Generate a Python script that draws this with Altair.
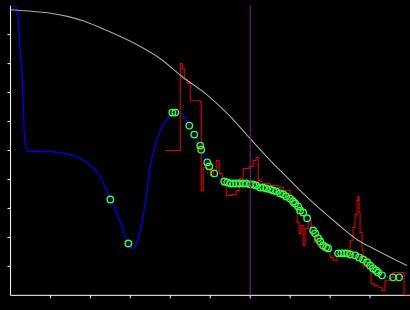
import altair as alt
import pandas as pd

# Reference (gray) curve
gray_x = [0, 0.575, 1.0, 1.425, 1.85, 2.25, 3.075, 3.75, 4.325, 4.875, 5.425, 6.0, 6.5, 7.0, 7.325, 8.175, 8.7, 9.175, 9.925]
gray_y = [9.86, 9.80, 9.74, 9.63, 9.46, 9.24, 8.72, 8.17, 7.52, 6.97, 6.28, 5.41, 4.66, 3.97, 3.52, 2.48, 1.90, 1.55, 1.03]

# Smooth fitted (blue) curve
blue_x = [0, 0.125, 0.175, 0.2, 0.25, 0.3, 0.325, 0.35, 0.4, 0.45, 0.75, 1.25, 1.55, 1.825, 2.175, 2.5,
          2.75, 2.95, 3.075, 3.2, 3.325, 3.425, 3.5, 3.575, 3.75, 3.925, 4.075, 4.25, 4.45, 4.575, 4.75,
          4.925, 5.1, 5.35, 5.625, 5.9, 6.075, 6.25, 6.5, 6.75, 7.0, 7.125, 7.25, 7.425, 7.575, 7.7,
          7.825, 7.95, 8.2, 8.425, 8.625, 8.725, 8.925, 9.075, 9.3, 9.575, 9.725, 9.925]
blue_y = [10.0, 9.97, 9.72, 9.38, 8.28, 7.41, 6.48, 5.45, 5.10, 4.97, 4.97, 4.93, 4.83, 4.66, 4.24, 3.34,
          2.52, 1.79, 1.62, 1.97, 2.76, 3.69, 4.48, 4.93, 5.69, 6.10, 6.28, 6.28, 5.93, 5.59, 5.17,
          4.59, 4.21, 3.93, 3.86, 3.86, 3.83, 3.72, 3.66, 3.52, 3.34, 3.17, 2.93, 2.66, 2.24, 1.97,
          1.72, 1.62, 1.45, 1.45, 1.38, 1.31, 1.14, 0.93, 0.69, 0.62, 0.62, 0.72]

# Noisy (red) step series
red_x = [3.875, 4.25, 4.3, 4.35, 4.425, 4.5, 4.75, 4.775, 4.825, 4.9, 5.0, 5.075, 5.15, 5.225, 5.3, 5.4,
         5.55, 5.65, 5.725, 5.825, 5.975, 6.075, 6.15, 6.2, 6.275, 6.5, 6.7, 6.825, 7.0, 7.125, 7.175,
         7.225, 7.275, 7.325, 7.375, 7.45, 7.525, 7.6, 7.7, 7.825, 8.0, 8.075, 8.175, 8.45, 8.5, 8.575,
         8.625, 8.675, 8.7, 8.725, 8.75, 8.8, 8.825, 9.0, 9.025, 9.1, 9.2, 9.3, 9.375, 9.5, 9.575, 9.85, 10.0]
red_y = [5.0, 8.0, 7.83, 7.45, 7.31, 6.72, 6.66, 3.62, 4.41, 4.38, 4.14, 4.31, 4.66, 4.21, 3.79, 3.45,
         3.48, 3.62, 4.03, 4.38, 4.45, 4.66, 4.76, 3.97, 3.86, 3.79, 3.72, 3.62, 3.38, 3.17, 2.52,
         2.14, 2.41, 1.72, 2.31, 2.59, 2.14, 1.83, 1.66, 1.55, 1.31, 1.21, 1.34, 1.45, 1.90, 2.34,
         2.79, 3.28, 3.41, 2.86, 2.17, 1.55, 1.0, 0.86, 0.41, 0.34, 0.28, 0.17, 0.52, 0.62, 0.79, 0.0, 0.0]

# Sample points (green circles)
pts_x = [2.5, 2.95, 4.05, 4.125, 4.475, 4.6, 4.75, 4.775, 4.925, 4.975, 5.1, 5.35, 5.425, 5.5, 5.575,
         5.65, 5.725, 5.825, 5.9, 6.0, 6.075, 6.15, 6.25, 6.325, 6.4, 6.5, 6.575, 6.65, 6.75, 6.825,
         6.9, 7.0, 7.075, 7.125, 7.2, 7.25, 7.325, 7.425, 7.575, 7.625, 7.7, 7.75, 7.825, 7.9, 7.95,
         8.2, 8.275, 8.35, 8.425, 8.5, 8.625, 8.725, 8.825, 8.925, 9.0, 9.075, 9.15, 9.2, 9.3, 9.575, 9.725]
pts_y = [3.31, 1.79, 6.31, 6.31, 5.86, 5.55, 5.17, 5.03, 4.59, 4.45, 4.21, 3.93, 3.90, 3.86, 3.86,
         3.86, 3.86, 3.86, 3.86, 3.83, 3.83, 3.79, 3.72, 3.72, 3.69, 3.66, 3.62, 3.59, 3.52, 3.48,
         3.41, 3.34, 3.24, 3.17, 3.07, 2.93, 2.86, 2.66, 2.24, 2.14, 1.97, 1.86, 1.72, 1.66, 1.62,
         1.45, 1.45, 1.45, 1.45, 1.41, 1.38, 1.31, 1.24, 1.14, 1.03, 0.93, 0.86, 0.79, 0.69, 0.62, 0.62]

marker_x = [6.0]
tick_vals = [1, 2, 3, 4, 5, 6, 7, 8, 9]

xs = alt.Scale(domain=[0, 10], nice=False, zero=False)
ys = alt.Scale(domain=[0, 10], nice=False, zero=False)

ax_x = alt.Axis(values=tick_vals, labels=False, title=None, grid=False, domainColor="white",
                tickColor="white", tickSize=3, domainWidth=1, tickWidth=1, translate=0,
                labelOverlap=False, tickCount=10)
ax_y = alt.Axis(values=tick_vals, labels=False, title=None, grid=False, domainColor="white",
                tickColor="white", tickSize=3, domainWidth=1, tickWidth=1, translate=0,
                labelOverlap=False, tickCount=10)

gray_df = pd.DataFrame({"x": gray_x, "y": gray_y})
blue_df = pd.DataFrame({"x": blue_x, "y": blue_y})
red_df = pd.DataFrame({"x": red_x, "y": red_y})
pts_df = pd.DataFrame({"x": pts_x, "y": pts_y})
mk_df = pd.DataFrame({"x": marker_x})

blue = alt.Chart(blue_df).mark_line(color="#0000ff", strokeWidth=1.2, interpolate="monotone", clip=True).encode(
    x=alt.X("x:Q", scale=xs, axis=ax_x),
    y=alt.Y("y:Q", scale=ys, axis=ax_y),
)
red = alt.Chart(red_df).mark_line(color="#e00000", strokeWidth=1.1, interpolate="step-after", clip=True).encode(
    x=alt.X("x:Q", scale=xs), y=alt.Y("y:Q", scale=ys)
)
gray = alt.Chart(gray_df).mark_line(color="#a8a8a8", strokeWidth=1.1, interpolate="monotone", clip=True).encode(
    x=alt.X("x:Q", scale=xs), y=alt.Y("y:Q", scale=ys)
)
pts = alt.Chart(pts_df).mark_point(shape="circle", filled=False, size=42, strokeWidth=1.4,
                                   color="#33ff33", opacity=1, clip=True).encode(
    x=alt.X("x:Q", scale=xs), y=alt.Y("y:Q", scale=ys)
)
rule = alt.Chart(mk_df).mark_rule(color="#8020a0", strokeWidth=1).encode(
    x=alt.X("x:Q", scale=xs)
)

chart = alt.layer(blue, red, gray, pts, rule).properties(
    width=400, height=290,
    autosize=alt.AutoSizeParams(type="none"),
    padding={"left": 10.5, "top": 5.5, "right": 0, "bottom": 14.5},
    background="black",
).configure_view(strokeWidth=0)

chart.save("out.html", embed_options={"renderer": "svg", "actions": False})
